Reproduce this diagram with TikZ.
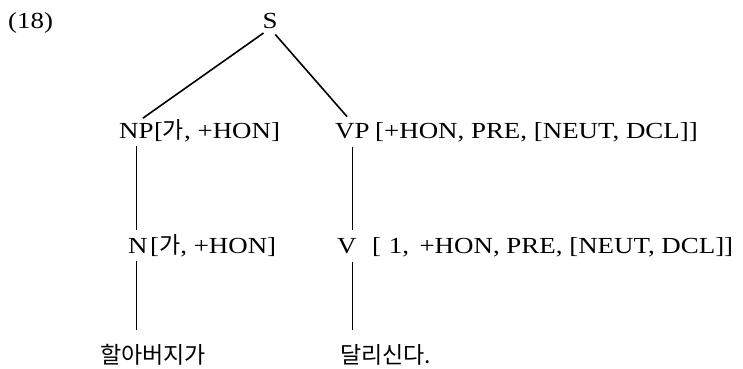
\documentclass[tikz,border=0pt]{standalone}
\usepackage{fontspec}
\setmainfont[FakeStretch=1.17]{Liberation Serif}
\newfontfamily\kr{Noto Sans CJK KR}
\usetikzlibrary{positioning}

\begin{document}
\begin{tikzpicture}[x=1pt, y=-1pt,
  lbl/.style={inner sep=0pt, anchor=base west, font=\fontsize{23}{27}\selectfont},
  word/.style={lbl, font=\fontsize{23}{27}\selectfont\kr},
  branch/.style={line width=1.6pt, shorten <=8pt, shorten >=8pt}
]
\useasboundingbox (0,0) rectangle (743,368);

% labels
\node[lbl] (ex) at (8,28) {(18)};
\node[lbl, anchor=base] (s) at (270,28) {S};

\node[lbl] (np) at (119,138) {NP};
\node[lbl] (npf) at (np.base east) {[{\kr 가}, +HON]};
\node[lbl] (vp) at (335,138) {VP};
\node[lbl] (vpf) at (375,138) {[+HON, PRE, [NEUT, DCL]]};

\node[lbl] (n) at (128,253) {N};
\node[lbl] (nf) at (150,253) {[{\kr 가}, +HON]};
\node[lbl] (v) at (337,253) {V};
\node[lbl] (vf) at (372,253) {[\,\,1, \,+HON, PRE, [NEUT, DCL]]};

\node[word] (w1) at (100,363) {할아버지가};
\node[word] (w2) at (340,363) {달리신다.};

% branches
\draw[branch] (s.south) -- (np.north);
\draw[branch] (s.south) -- (vp.north);
\draw[branch] (np.south) -- (np.south |- n.north);
\draw[branch] (vp.south) -- (vp.south |- v.north);
\draw[branch, shorten >=14pt] (np.south |- n.south) -- (np.south |- w1.north);
\draw[branch, shorten >=14pt] (vp.south |- v.south) -- (vp.south |- w2.north);
\end{tikzpicture}
\end{document}
